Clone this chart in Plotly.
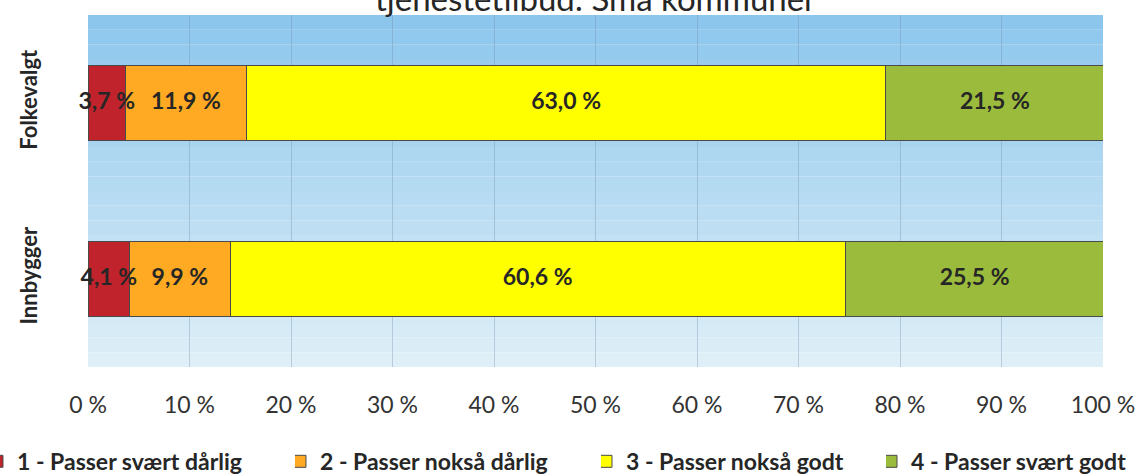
import plotly.graph_objects as go

grupper = ["Folkevalgt", "Innbygger"]
serier = ["1 - Passer svært dårlig", "2 - Passer nokså dårlig",
          "3 - Passer nokså godt", "4 - Passer svært godt"]
verdier = [
    [3.7, 4.1],
    [11.9, 9.9],
    [63.0, 60.6],
    [21.5, 25.5],
]
farger = ["#C0232B", "#FFAA22", "#FFFF00", "#9BBB3C"]
tittel = "tjenestetilbud: Små kommuner"

legender = ["legend", "legend2", "legend3", "legend4"]
legend_x = [-0.0946, 0.2039, 0.5054, 0.7862]

tekstfont = dict(family="Lato", size=23, color="#262626", weight="bold")

fig = go.Figure()
for navn, v, f, lg in zip(serier, verdier, farger, legender):
    fig.add_trace(go.Bar(
        y=grupper, x=v, name=navn, orientation="h", legend=lg,
        marker=dict(color=f, line=dict(color="#4A4A4A", width=1)),
        textposition="none", width=0.43,
    ))

# verdietiketter midt på hvert segment (røde tekster går ut over kanten)
start = [0.0] * len(grupper)
tx, ty, tt = [], [], []
for v in verdier:
    for j, g in enumerate(grupper):
        tx.append(start[j] + v[j] / 2)
        ty.append(g)
        tt.append(("%.1f %%" % v[j]).replace(".", ","))
        start[j] += v[j]
fig.add_trace(go.Scatter(x=tx, y=ty, text=tt, mode="text", textfont=tekstfont,
                         cliponaxis=False, showlegend=False, hoverinfo="skip"))

# gradient bakgrunn i plottområdet
topp = (141, 198, 236)
bunn = (222, 239, 248)
n = 24
for i in range(n):
    t = i / (n - 1)
    c = tuple(round(topp[k] + (bunn[k] - topp[k]) * t) for k in range(3))
    fig.add_shape(type="rect", xref="x domain", yref="y domain",
                  x0=0, x1=1, y0=1 - (i + 1) / n, y1=1 - i / n,
                  fillcolor="rgb(%d,%d,%d)" % c, line=dict(width=0),
                  layer="below")

fig.add_annotation(text=tittel, xref="paper", yref="paper", x=0.5, y=1,
                   xanchor="center", yanchor="bottom", yshift=-5, showarrow=False,
                   font=dict(family="Lato", size=33, color="#262626"))

leg_stil = dict(orientation="h", xanchor="left", y=-0.207, yanchor="top",
                bgcolor="rgba(0,0,0,0)", indentation=-15,
                font=dict(family="Lato", size=23, color="#262626", weight="bold"))

fig.update_layout(
    barmode="stack",
    separators=", ",
    showlegend=True,
    width=1137, height=474,
    margin=dict(l=88, r=34, t=15, b=107, autoexpand=False),
    paper_bgcolor="white",
    plot_bgcolor="rgba(0,0,0,0)",
    font=dict(family="Lato", color="#333333"),
    legend=dict(x=legend_x[0], **leg_stil),
    legend2=dict(x=legend_x[1], **leg_stil),
    legend3=dict(x=legend_x[2], **leg_stil),
    legend4=dict(x=legend_x[3], **leg_stil),
)
fig.update_xaxes(range=[0, 100], dtick=10, ticksuffix=" %",
                 showgrid=True, gridcolor="rgba(110,140,165,0.35)", gridwidth=1,
                 zeroline=False, showline=False, ticks="", automargin=False,
                 ticklabelstandoff=22,
                 tickfont=dict(family="Lato", size=23, color="#333333"))
fig.update_yaxes(categoryorder="array", categoryarray=grupper[::-1],
                 tickangle=-90, showgrid=False, ticks="", ticklabelstandoff=46,
                 automargin=False,
                 tickfont=dict(family="Lato", size=22, color="#262626", weight="bold"))

fig.write_html("out.html", config={"displayModeBar": False},
               post_script="document.body.style.margin='0';")
